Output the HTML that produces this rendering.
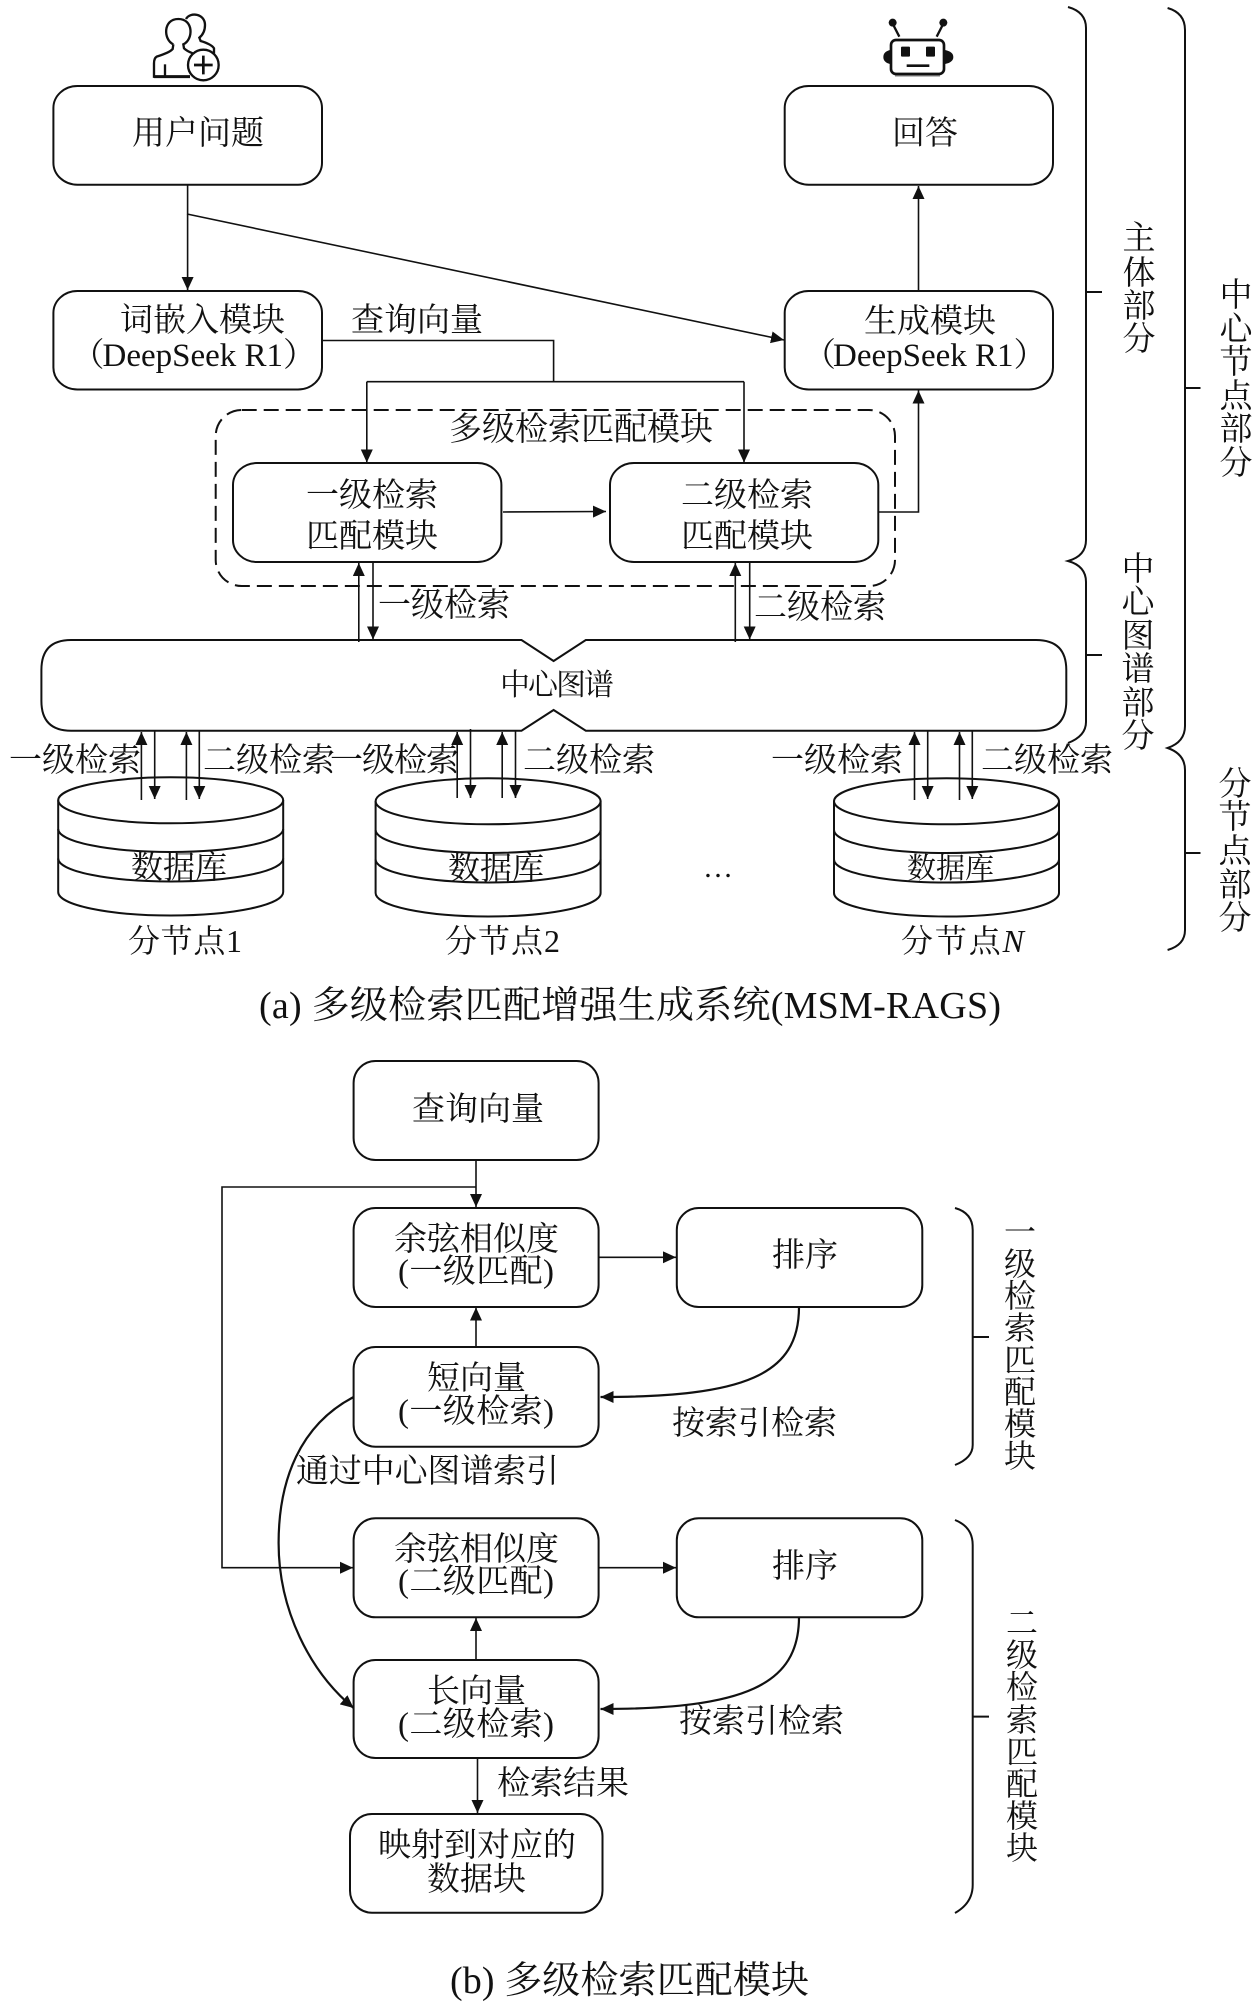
<!DOCTYPE html>
<html lang="zh"><head><meta charset="utf-8"><style>
html,body{margin:0;padding:0;background:#fff}
svg{display:block}
text{font-family:"Liberation Serif","Noto Serif CJK SC",serif;font-size:33px;fill:#111}
.m{text-anchor:middle}
.v{text-anchor:middle;font-size:32px}
.b{fill:#fff;stroke:#111;stroke-width:2}
.l{fill:none;stroke:#111;stroke-width:1.6}
.a{fill:none;stroke:#111;stroke-width:1.6;marker-end:url(#ar)}
</style></head><body>
<svg xmlns="http://www.w3.org/2000/svg" width="1260" height="2008" viewBox="0 0 1260 2008">
<defs><marker id="ar" markerUnits="userSpaceOnUse" markerWidth="14" markerHeight="13" refX="13" refY="6" orient="auto"><path d="M0 0L13 6L0 12Z" fill="#111"/></marker></defs>

<!-- user icon -->
<g transform="translate(140 5) scale(.33333)" fill="none" stroke="#111" stroke-width="7">
<path d="M138 42C150 20 195 25 195 60C195 80 188 90 178 98L182 108Q215 118 222 130L222 145"/>
<path d="M100 118C70 105 68 42 115 42C162 42 160 105 130 118L132 130Q140 138 158 145"/>
<path d="M100 118L98 132Q90 142 50 155Q42 160 42 175V215H150"/>
<path d="M75 178V215"/>
<path d="M42 215H150" stroke-width="9"/>
<circle cx="190" cy="180" r="46" fill="#fff"/>
<path d="M162 180H218M190 152V208" stroke-width="8"/>
</g>
<!-- robot icon -->
<g transform="translate(870 10) scale(.33333)" stroke="#111" fill="none">
<path d="M75 197H210" stroke="#999" stroke-width="6"/>
<rect x="63" y="90" width="159" height="102" rx="15" fill="#fff" stroke-width="8"/>
<rect x="93" y="110" width="27" height="30" rx="3" fill="#111" stroke="none"/>
<rect x="168" y="110" width="27" height="30" rx="3" fill="#111" stroke="none"/>
<path d="M110 167H178" stroke-width="8"/>
<path d="M60 120Q40 125 40 141Q40 157 60 162Z M225 120Q250 125 250 141Q250 157 225 162Z" fill="#111" stroke="none"/>
<path d="M88 80L70 45M200 80L218 45" stroke-width="7"/>
<circle cx="68" cy="38" r="12" fill="#111" stroke="none"/>
<circle cx="220" cy="38" r="12" fill="#111" stroke="none"/>
</g>

<!-- part (a) connectors -->
<path class="a" d="M187.6 185V290"/>
<path class="a" d="M187 214L784 340"/>
<path class="a" d="M918.5 291V186"/>
<path class="l" d="M322 340.5H553.6V381.7"/>
<path class="l" d="M366.8 381.7H744"/>
<path class="a" d="M366.8 381.7V462.5"/>
<path class="a" d="M744 381.7V462.5"/>

<!-- dashed box -->
<rect x="215.7" y="410" width="679.3" height="176" rx="26" ry="26" fill="none" stroke="#111" stroke-width="2" stroke-dasharray="15 7"/>

<!-- part (a) boxes -->
<rect class="b" x="53.4" y="86" width="268.6" height="98.7" rx="24" ry="22"/>
<rect class="b" x="784.7" y="86" width="268.3" height="98.7" rx="24" ry="22"/>
<rect class="b" x="53.4" y="291" width="268.6" height="98.5" rx="24" ry="22"/>
<rect class="b" x="784.7" y="291" width="268.3" height="98.5" rx="24" ry="22"/>
<rect class="b" x="233" y="463" width="268.4" height="99" rx="24" ry="22"/>
<rect class="b" x="610" y="463" width="268.3" height="99" rx="24" ry="22"/>

<path class="a" d="M503 512L606 511.5"/>
<path class="a" d="M878 512H918.5V390.5"/>

<!-- central graph -->
<path class="b" d="M71 640H521.5L553.6 661L585.8 640H1036Q1066.3 640 1066.3 670V701Q1066.3 730.7 1036 730.7H585.8L553.6 710L521.5 730.7H71Q41.4 730.7 41.4 701V670Q41.4 640 71 640Z"/>

<path class="a" d="M358.8 642V563"/>
<path class="a" d="M373 562V639.5"/>
<path class="a" d="M735.3 642V563"/>
<path class="a" d="M749.7 562V639.5"/>

<!-- databases -->
<g fill="none" stroke="#111" stroke-width="2">
<ellipse cx="170.7" cy="800.3" rx="112.5" ry="23"/>
<path d="M58.2 800.3V892M283.2 800.3V892"/>
<path d="M58.2 829A112.5 23 0 0 0 283.2 829"/>
<path d="M58.2 858.5A112.5 23 0 0 0 283.2 858.5"/>
<path d="M58.2 892A112.5 23.5 0 0 0 283.2 892"/>
</g>
<g fill="none" stroke="#111" stroke-width="2">
<ellipse cx="488.1" cy="801.3" rx="112.5" ry="23"/>
<path d="M375.6 801.3V893M600.6 801.3V893"/>
<path d="M375.6 830A112.5 23 0 0 0 600.6 830"/>
<path d="M375.6 859.5A112.5 23 0 0 0 600.6 859.5"/>
<path d="M375.6 893A112.5 23.5 0 0 0 600.6 893"/>
</g>
<g fill="none" stroke="#111" stroke-width="2">
<ellipse cx="946.5" cy="801.3" rx="112.5" ry="23"/>
<path d="M834 801.3V893M1059 801.3V893"/>
<path d="M834 830A112.5 23 0 0 0 1059 830"/>
<path d="M834 859.5A112.5 23 0 0 0 1059 859.5"/>
<path d="M834 893A112.5 23.5 0 0 0 1059 893"/>
</g>

<path class="a" d="M141.4 800V732"/><path class="a" d="M154.7 731V799"/><path class="a" d="M186.4 800V732"/><path class="a" d="M199.3 731V799"/>
<path class="a" d="M457.2 798V732"/><path class="a" d="M470.5 729V798"/><path class="a" d="M502.2 798V732"/><path class="a" d="M515.5 731V798"/>
<path class="a" d="M914.5 800V732"/><path class="a" d="M927.7 731V799"/><path class="a" d="M959.5 800V732"/><path class="a" d="M972.3 731V799"/>

<!-- braces -->
<g fill="none" stroke="#111" stroke-width="2">
<path d="M1068 7Q1086 12 1086 28V540Q1086 556 1068 561Q1086 566 1086 582V722Q1086 736 1068 743M1086 292H1102M1086 655H1102"/>
<path d="M1167.6 8Q1185 13 1185 30V726Q1185 742 1167.6 748Q1185 754 1185 770V930Q1185 945 1167.6 950M1185 388H1200.5M1185 853H1200.5"/>
<path d="M955 1208Q972.7 1213 972.7 1230V1445Q972.7 1458 955 1465M972.7 1337H989"/>
<path d="M955 1520Q972.7 1527 972.7 1545V1885Q972.7 1903 955 1913M972.7 1716.6H989"/>
</g>

<!-- part (a) text -->
<text x="132" y="144">用户问题</text>
<text x="892" y="144">回答</text>
<text x="120" y="331">词嵌入模块</text>
<text x="71.5" y="366">（<tspan dx="-2">DeepSeek R1）</tspan></text>
<text x="803" y="366">（<tspan dx="-3">DeepSeek R1）</tspan></text>
<text x="864" y="332">生成模块</text>
<text x="351" y="331">查询向量</text>
<text x="449" y="440">多级检索匹配模块</text>
<text x="306" y="506">一级检索</text>
<text x="306" y="547">匹配模块</text>
<text x="681" y="506">二级检索</text>
<text x="681" y="547">匹配模块</text>
<text x="378" y="616">一级检索</text>
<text x="754" y="618">二级检索</text>
<text x="500" y="695" style="font-size:30px" textLength="114">中心图谱</text>
<text x="9" y="771">一级检索</text>
<text x="203" y="771">二级检索</text>
<text x="330" y="771" textLength="129">一级检索</text>
<text x="523" y="771">二级检索</text>
<text x="771" y="771">一级检索</text>
<text x="981" y="771">二级检索</text>
<text x="131" y="878" style="font-size:32px">数据库</text>
<text x="448" y="879" style="font-size:32px">数据库</text>
<text x="907" y="878" style="font-size:29px">数据库</text>
<text x="128" y="952" style="font-size:32px" textLength="114">分节点1</text>
<text x="445" y="952" style="font-size:32px" textLength="115">分节点2</text>
<text x="901" y="952" style="font-size:32px" textLength="123">分节点<tspan font-style="italic">N</tspan></text>
<text x="703" y="877" style="font-size:30px">…</text>
<text x="259" y="1018" style="font-size:38px" textLength="742">(a) 多级检索匹配增强生成系统(MSM-RAGS)</text>

<text class="m" x="1139" y="249">主</text><text class="m" x="1139" y="284">体</text><text class="m" x="1139" y="317">部</text><text class="m" x="1139" y="350">分</text>
<text class="m" x="1236" y="306">中</text><text class="m" x="1236" y="340">心</text><text class="m" x="1236" y="373">节</text><text class="m" x="1236" y="407">点</text><text class="m" x="1236" y="440">部</text><text class="m" x="1236" y="474">分</text>
<text class="m" x="1138" y="580">中</text><text class="m" x="1138" y="613">心</text><text class="m" x="1138" y="647">图</text><text class="m" x="1138" y="680">谱</text><text class="m" x="1138" y="714">部</text><text class="m" x="1138" y="747">分</text>
<text class="m" x="1235" y="795">分</text><text class="m" x="1235" y="828">节</text><text class="m" x="1235" y="862">点</text><text class="m" x="1235" y="896">部</text><text class="m" x="1235" y="929">分</text>

<!-- part (b) connectors -->
<path class="a" d="M476 1160V1207"/>
<path class="a" d="M476 1187H222V1567.7H353"/>
<path class="a" d="M598.6 1257.3H676"/>
<path class="a" d="M476 1347V1307.5"/>
<path class="a" d="M598.6 1567.7H676"/>
<path class="a" d="M476 1659V1618"/>
<path class="a" d="M477.5 1758V1813"/>
<path class="a" d="M799 1307C799 1375 745 1397 600.5 1397" style="stroke-width:2.2"/>
<path class="a" d="M799 1617C799 1685 745 1709 600.5 1709" style="stroke-width:2.2"/>
<path class="a" d="M353.6 1397C300 1425 278.6 1480 278.6 1543C278.6 1610 310 1672 353.6 1708" style="stroke-width:2.2"/>

<!-- part (b) boxes -->
<g fill="#fff" stroke="#111" stroke-width="2">
<rect x="353.6" y="1061" width="245" height="99" rx="22" ry="22"/>
<rect x="353.6" y="1208" width="245" height="99" rx="22" ry="22"/>
<rect x="676.8" y="1208" width="245.5" height="99" rx="22" ry="22"/>
<rect x="353.6" y="1347" width="245" height="99.7" rx="22" ry="22"/>
<rect x="353.6" y="1518.3" width="245" height="99" rx="22" ry="22"/>
<rect x="676.8" y="1518.3" width="245.5" height="99" rx="22" ry="22"/>
<rect x="353.6" y="1660" width="245" height="98" rx="22" ry="22"/>
<rect x="350" y="1814" width="252.5" height="98.7" rx="22" ry="22"/>
</g>

<!-- part (b) text -->
<text x="412" y="1120">查询向量</text>
<text x="394" y="1250">余弦相似度</text>
<text x="398" y="1282" textLength="156">(一级匹配)</text>
<text x="772" y="1266">排序</text>
<text x="427" y="1389">短向量</text>
<text x="398" y="1422" textLength="156">(一级检索)</text>
<text x="672" y="1434">按索引检索</text>
<text x="296" y="1482" textLength="263">通过中心图谱索引</text>
<text x="394" y="1560">余弦相似度</text>
<text x="398" y="1592" textLength="156">(二级匹配)</text>
<text x="772" y="1577">排序</text>
<text x="427" y="1702">长向量</text>
<text x="398" y="1735" textLength="156">(二级检索)</text>
<text x="679" y="1732">按索引检索</text>
<text x="497" y="1794">检索结果</text>
<text x="378" y="1856">映射到对应的</text>
<text x="427" y="1890">数据块</text>
<text x="450" y="1993" style="font-size:38px" textLength="359">(b) 多级检索匹配模块</text>

<text class="v" x="1020" y="1243">一</text><text class="v" x="1020" y="1275">级</text><text class="v" x="1020" y="1307">检</text><text class="v" x="1020" y="1339">索</text><text class="v" x="1020" y="1371">匹</text><text class="v" x="1020" y="1403">配</text><text class="v" x="1020" y="1435">模</text><text class="v" x="1020" y="1467">块</text>
<text class="v" x="1022" y="1634">二</text><text class="v" x="1022" y="1666">级</text><text class="v" x="1022" y="1698">检</text><text class="v" x="1022" y="1731">索</text><text class="v" x="1022" y="1763">匹</text><text class="v" x="1022" y="1795">配</text><text class="v" x="1022" y="1827">模</text><text class="v" x="1022" y="1859">块</text>
</svg>
</body></html>
